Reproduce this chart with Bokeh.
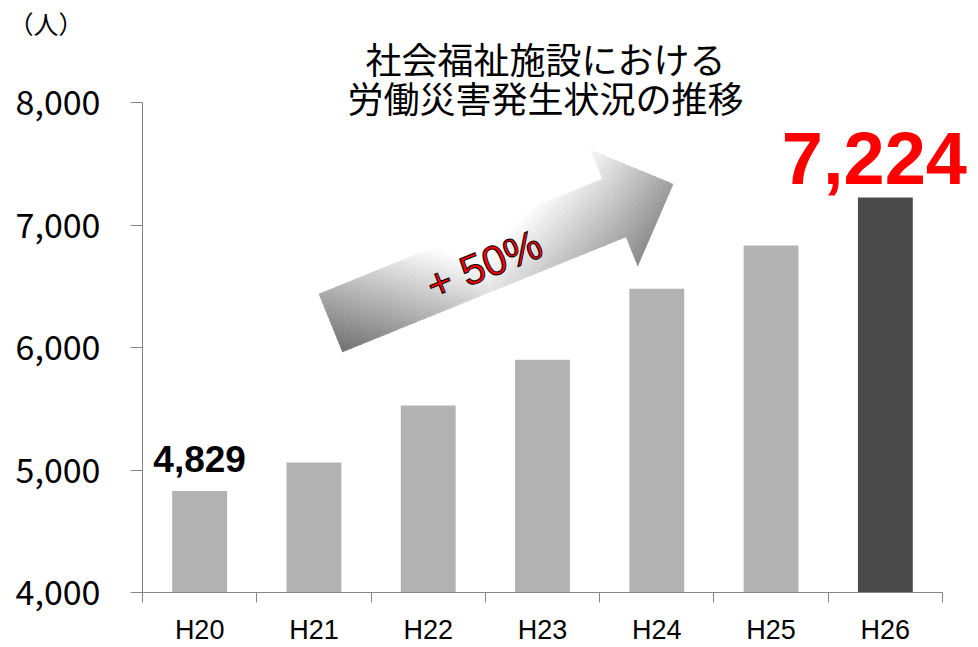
import math
from bokeh.plotting import figure
from bokeh.models import Range1d, FixedTicker, Label, Title
from bokeh.embed import file_html
from bokeh.resources import INLINE

# ---------------- data ----------------
categories = ["H20", "H21", "H22", "H23", "H24", "H25", "H26"]
values = [4829, 5061, 5527, 5900, 6479, 6833, 7224]
bar_colors = ["#b2b2b2", "#b2b2b2", "#b2b2b2", "#b2b2b2", "#b2b2b2", "#b2b2b2", "#4a4a4a"]
y_ticks = [4000, 5000, 6000, 7000, 8000]
y_tick_labels = ["4,000", "5,000", "6,000", "7,000", "8,000"]
title_lines = ["社会福祉施設における", "労働災害発生状況の推移"]
unit_label = "（人）"
growth_label = "+  50%"

# ---------------- layout (page pixels) ----------------
Y_MIN, Y_MAX = 4000, 8000
CANVAS_W, CANVAS_H = 976, 645
AXIS_LEFT_PX, AXIS_BOTTOM_PX = 142, 592       # where x=0 / y=Y_MIN sit
AXIS_RIGHT_PX, AXIS_TOP_PX = 942, 102         # where x=7 / y=Y_MAX sit
FRAME_TOP_PX = 40
PX_PER_X = (AXIS_RIGHT_PX - AXIS_LEFT_PX) / len(categories)
PX_PER_Y = (AXIS_BOTTOM_PX - AXIS_TOP_PX) / (Y_MAX - Y_MIN)

x_end = len(categories) + (CANVAS_W - AXIS_RIGHT_PX) / PX_PER_X
y_end = Y_MIN + (AXIS_BOTTOM_PX - FRAME_TOP_PX) / PX_PER_Y


def px_to_data(px, py):
    return ((px - AXIS_LEFT_PX) / PX_PER_X, Y_MIN + (AXIS_BOTTOM_PX - py) / PX_PER_Y)


p = figure(
    x_range=Range1d(0, x_end), y_range=Range1d(Y_MIN, y_end),
    frame_width=CANVAS_W - AXIS_LEFT_PX, frame_height=AXIS_BOTTOM_PX - FRAME_TOP_PX,
    min_border_left=AXIS_LEFT_PX, min_border_right=0,
    min_border_top=FRAME_TOP_PX, min_border_bottom=CANVAS_H - AXIS_BOTTOM_PX,
    output_backend="svg", toolbar_location=None,
)
p.outline_line_color = None
p.xgrid.visible = False
p.ygrid.visible = False
p.background_fill_color = "white"
p.border_fill_color = "white"

AXIS_COLOR = "#868686"
centers = [i + 0.5 for i in range(len(categories))]

# bars
p.vbar(x=centers, top=values, bottom=Y_MIN, width=0.48,
       fill_color=bar_colors, line_color=None)

# y axis
ya = p.yaxis[0]
ya.bounds = (Y_MIN, Y_MAX)
ya.ticker = FixedTicker(ticks=y_ticks, minor_ticks=[])
ya.major_label_overrides = {t: l for t, l in zip(y_ticks, y_tick_labels)}
ya.axis_line_color = AXIS_COLOR
ya.major_tick_line_color = AXIS_COLOR
ya.major_tick_in = 0
ya.major_tick_out = 12
ya.minor_tick_line_color = None
ya.major_label_text_font = "Noto Sans CJK JP"
ya.major_label_text_font_size = "34px"
ya.major_label_text_color = "#000000"
ya.major_label_standoff = 30

# x axis: labels at centres, ticks at category boundaries
xa = p.xaxis[0]
xa.bounds = (0, len(categories))
xa.ticker = FixedTicker(ticks=centers, minor_ticks=list(range(len(categories) + 1)))
xa.major_label_overrides = {c: n for c, n in zip(centers, categories)}
xa.axis_line_color = AXIS_COLOR
xa.major_tick_in = 0
xa.major_tick_out = 0
xa.major_tick_line_color = None
xa.minor_tick_in = 0
xa.minor_tick_out = 10
xa.minor_tick_line_color = AXIS_COLOR
xa.major_label_text_font = "Liberation Sans"
xa.major_label_text_font_size = "27px"
xa.major_label_text_color = "#000000"
xa.major_label_standoff = 12

# ---------------- gradient arrow ----------------
ARROW_ORIGIN = (330.0, 322.5)   # base midpoint (page px)
ARROW_ANGLE = math.radians(22.07)
SHAFT_HALF, HEAD_HALF, SHAFT_LEN, ARROW_LEN = 31.5, 63.0, 306.0, 370.0
ud = (math.cos(ARROW_ANGLE), -math.sin(ARROW_ANGLE))
vd = (math.sin(ARROW_ANGLE), math.cos(ARROW_ANGLE))

arrow_local = [(0, -SHAFT_HALF), (SHAFT_LEN, -SHAFT_HALF), (SHAFT_LEN, -HEAD_HALF),
               (ARROW_LEN, 0), (SHAFT_LEN, HEAD_HALF), (SHAFT_LEN, SHAFT_HALF),
               (0, SHAFT_HALF)]


def clip_half(pts, axis, bound, greater):
    out = []
    n = len(pts)
    for i in range(n):
        cur, prev = pts[i], pts[i - 1]
        cin = cur[axis] >= bound if greater else cur[axis] <= bound
        pin = prev[axis] >= bound if greater else prev[axis] <= bound
        if cin != pin:
            t = (bound - prev[axis]) / (cur[axis] - prev[axis])
            out.append((prev[0] + t * (cur[0] - prev[0]), prev[1] + t * (cur[1] - prev[1])))
        if cin:
            out.append(cur)
    return out


stops = [(0.0, 0.55), (0.44, 1.0), (0.83, 0.76), (1.0, 0.62)]


def shade(u, v):
    t = u / ARROW_LEN
    base = stops[-1][1]
    for (t0, c0), (t1, c1) in zip(stops[:-1], stops[1:]):
        if t0 <= t <= t1:
            base = c0 + (c1 - c0) * (t - t0) / (t1 - t0)
            break
    val = base - 0.11 * v / SHAFT_HALF
    val = max(0.45, min(1.0, val))
    g = int(round(val * 255))
    return "#%02x%02x%02x" % (g, g, g)


STEP = 5.0
ov = 0.6
axs, ays, acols = [], [], []
nu = int(math.ceil(ARROW_LEN / STEP))
nv = int(math.ceil(2 * HEAD_HALF / STEP))
for i in range(nu):
    u0, u1 = i * STEP, (i + 1) * STEP
    for j in range(nv):
        v0, v1 = -HEAD_HALF + j * STEP, -HEAD_HALF + (j + 1) * STEP
        poly = arrow_local
        for axis, bound, greater in ((0, u0 - ov, True), (0, u1 + ov, False),
                                     (1, v0 - ov, True), (1, v1 + ov, False)):
            poly = clip_half(poly, axis, bound, greater)
            if not poly:
                break
        if len(poly) < 3:
            continue
        xs, ys = [], []
        for (u, v) in poly:
            px = ARROW_ORIGIN[0] + u * ud[0] + v * vd[0]
            py = ARROW_ORIGIN[1] + u * ud[1] + v * vd[1]
            dx, dy = px_to_data(px, py)
            xs.append(dx)
            ys.append(dy)
        axs.append(xs)
        ays.append(ys)
        acols.append(shade((u0 + u1) / 2, (v0 + v1) / 2))

p.patches(xs=axs, ys=ays, fill_color=acols, line_color=None)

# ---------------- texts ----------------
has_outline = "text_outline_color" in Label.properties()
GROWTH_SIZE = "42px"

gx, gy = px_to_data(489, 262)
if has_outline:
    p.add_layout(Label(x=gx, y=gy, text=growth_label, angle=ARROW_ANGLE,
                       text_align="center", text_baseline="middle",
                       text_font="Liberation Sans", text_font_size=GROWTH_SIZE,
                       text_color="#ff0000", text_outline_color="#000000"))
else:
    for ox, oy in [(-1, 0), (1, 0), (0, -1), (0, 1), (-1, -1), (1, 1), (-1, 1), (1, -1)]:
        p.add_layout(Label(x=gx, y=gy, x_offset=ox, y_offset=oy, text=growth_label,
                           angle=ARROW_ANGLE, text_align="center", text_baseline="middle",
                           text_font="Liberation Sans", text_font_size=GROWTH_SIZE,
                           text_color="#000000"))
    p.add_layout(Label(x=gx, y=gy, text=growth_label, angle=ARROW_ANGLE,
                       text_align="center", text_baseline="middle",
                       text_font="Liberation Sans", text_font_size=GROWTH_SIZE,
                       text_color="#ff0000"))

# first and last value labels
p.add_layout(Label(x=centers[0], y=values[0], y_offset=32, text=f"{values[0]:,}",
                   text_align="center", text_baseline="middle",
                   text_font="Liberation Sans", text_font_style="bold",
                   text_font_size="37px", text_color="#000000"))
p.add_layout(Label(x=centers[-1], y=values[-1], x_offset=-11, y_offset=40,
                   text=f"{values[-1]:,}", text_align="center", text_baseline="middle",
                   text_font="Liberation Sans", text_font_style="bold",
                   text_font_size="74px", text_color="#ff0000"))

# title
for line, py in zip(title_lines, [57, 96]):
    tx, ty = px_to_data(545, py)
    p.add_layout(Label(x=tx, y=ty, text=line, text_align="center", text_baseline="middle",
                       text_font="Noto Sans CJK JP", text_font_size="36px",
                       text_color="#000000"))

# unit (sits in the top border, left of the frame)
p.add_layout(Title(text=unit_label, align="left", offset=8 - AXIS_LEFT_PX, standoff=0,
                   text_font="Noto Sans CJK JP", text_font_size="25px",
                   text_font_style="normal", text_color="#000000"), "above")

open("out.html", "w").write(file_html(p, INLINE))
